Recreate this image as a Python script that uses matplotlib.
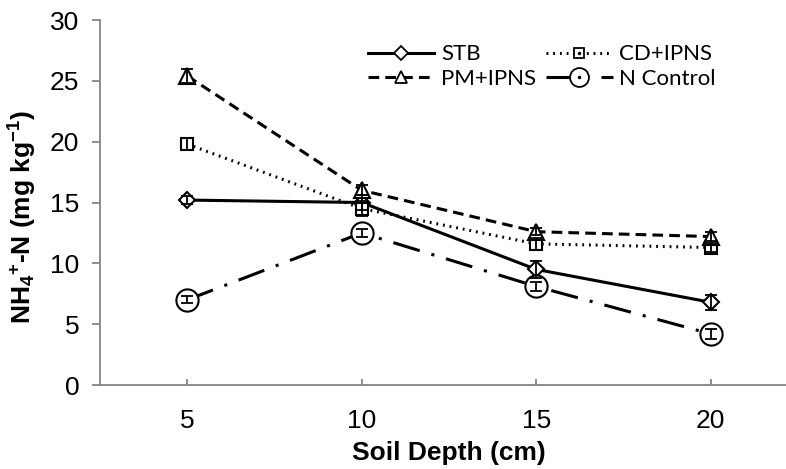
import numpy as np
import matplotlib
matplotlib.use("Agg")
import matplotlib.pyplot as plt
from matplotlib.lines import Line2D
from matplotlib.legend_handler import HandlerTuple

# ── Données ───────────────────────────────────────────────────────────────────
profondeurs = ["5", "10", "15", "20"]

stb = [15.2, 15.0, 9.5, 6.8]
stb_err = [0.3, 0.6, 0.7, 0.6]

cd_ipns = [19.8, 14.5, 11.6, 11.3]
cd_err = [0.5, 0.6, 0.5, 0.4]

pm_ipns = [25.4, 16.0, 12.6, 12.2]
pm_err = [0.6, 0.4, 0.3, 0.4]

n_control = [7.0, 12.5, 8.1, 4.2]
n_err = [0.3, 0.3, 0.4, 0.4]

plt.rcParams["font.family"] = ["Liberation Sans", "DejaVu Sans"]
plt.rcParams["mathtext.fontset"] = "custom"
plt.rcParams["mathtext.rm"] = "Liberation Sans:bold"
plt.rcParams["mathtext.it"] = "Liberation Sans:bold"
plt.rcParams["mathtext.bf"] = "Liberation Sans:bold"

fig = plt.figure(figsize=(7.86, 4.69), dpi=100)
W, H = 786, 469
# axe en catégories : le bord droit sort de l'image (comme la capture)
ax = fig.add_axes([100 / W, 1 - 385 / H, 698 / W, 365 / H])

x = np.arange(1, len(profondeurs) + 1)

# nom, valeurs, erreurs, style, marqueur, taille
series = [
    ("STB", stb, stb_err, "-", "D", 8),
    ("CD+IPNS", cd_ipns, cd_err, ":", "s", 9),
    ("PM+IPNS", pm_ipns, pm_err, "--", "^", 11),
    ("N Control", n_control, n_err, "-.", "o", 16),
]
dashes = {"-": None, ":": (0.6, 1.6), "--": (3.5, 2.0), "-.": (9, 4, 1, 4)}

handles = {}
for nom, y, err, ls, mk, ms in series:
    ligne, = ax.plot(x, y, color="black", lw=2.2, linestyle=ls, zorder=2)
    if dashes[ls] is not None:
        ligne.set_dashes(dashes[ls])
    ax.plot(x, y, linestyle="none", marker=mk, markersize=ms,
            markerfacecolor="white", markeredgecolor="black",
            markeredgewidth=1.5, zorder=3)
    ax.errorbar(x, y, yerr=err, fmt="none", ecolor="black", elinewidth=1.3,
                capsize=4.5, capthick=1.3, zorder=4)
    h = Line2D([], [], color="black", lw=2.2, linestyle=ls, marker=mk,
               markersize=ms * 0.85, markerfacecolor="white",
               markeredgecolor="black", markeredgewidth=1.3)
    if dashes[ls] is not None:
        h.set_dashes(dashes[ls])
    if mk in ("s", "o"):
        point = Line2D([], [], linestyle="none", marker=".", markersize=3,
                       color="black")
        handles[nom] = (h, point)
    else:
        handles[nom] = h

ax.set_xlim(0.5, 4.5)
ax.set_ylim(0, 30)
ax.set_xticks(x)
ax.set_xticklabels(profondeurs)
ax.set_yticks(np.arange(0, 31, 5))

for cote in ("top", "right"):
    ax.spines[cote].set_visible(False)
for cote in ("left", "bottom"):
    ax.spines[cote].set_color("#868686")
    ax.spines[cote].set_linewidth(1.3)

ax.tick_params(axis="y", direction="out", length=6, width=1.3,
               color="#868686", labelsize=19, pad=9)
ax.tick_params(axis="x", direction="in", length=4, width=1.3,
               color="#868686", labelsize=19, pad=17)

ax.set_xlabel("Soil Depth (cm)", fontsize=19, fontweight="bold", labelpad=6)
ax.set_ylabel(r"NH$_{4}$$^{+}$-N (mg kg$^{-1}$)", fontsize=19,
              fontweight="bold")
ax.yaxis.set_label_coords(-0.088, 0.46)

# ordre colonne par colonne : STB / PM+IPNS, puis CD+IPNS / N Control
ordre = ["STB", "PM+IPNS", "CD+IPNS", "N Control"]
ax.legend([handles[n] for n in ordre], ordre, ncol=2, loc="upper left",
          bbox_to_anchor=(0.355, 0.988), frameon=False,
          handlelength=3.0, columnspacing=0.45, labelspacing=0.2,
          handletextpad=0.3,
          handler_map={tuple: HandlerTuple(ndivide=1)},
          prop={"family": ["Lato", "DejaVu Sans"], "size": 16})

fig.savefig("out.png", dpi=100)
